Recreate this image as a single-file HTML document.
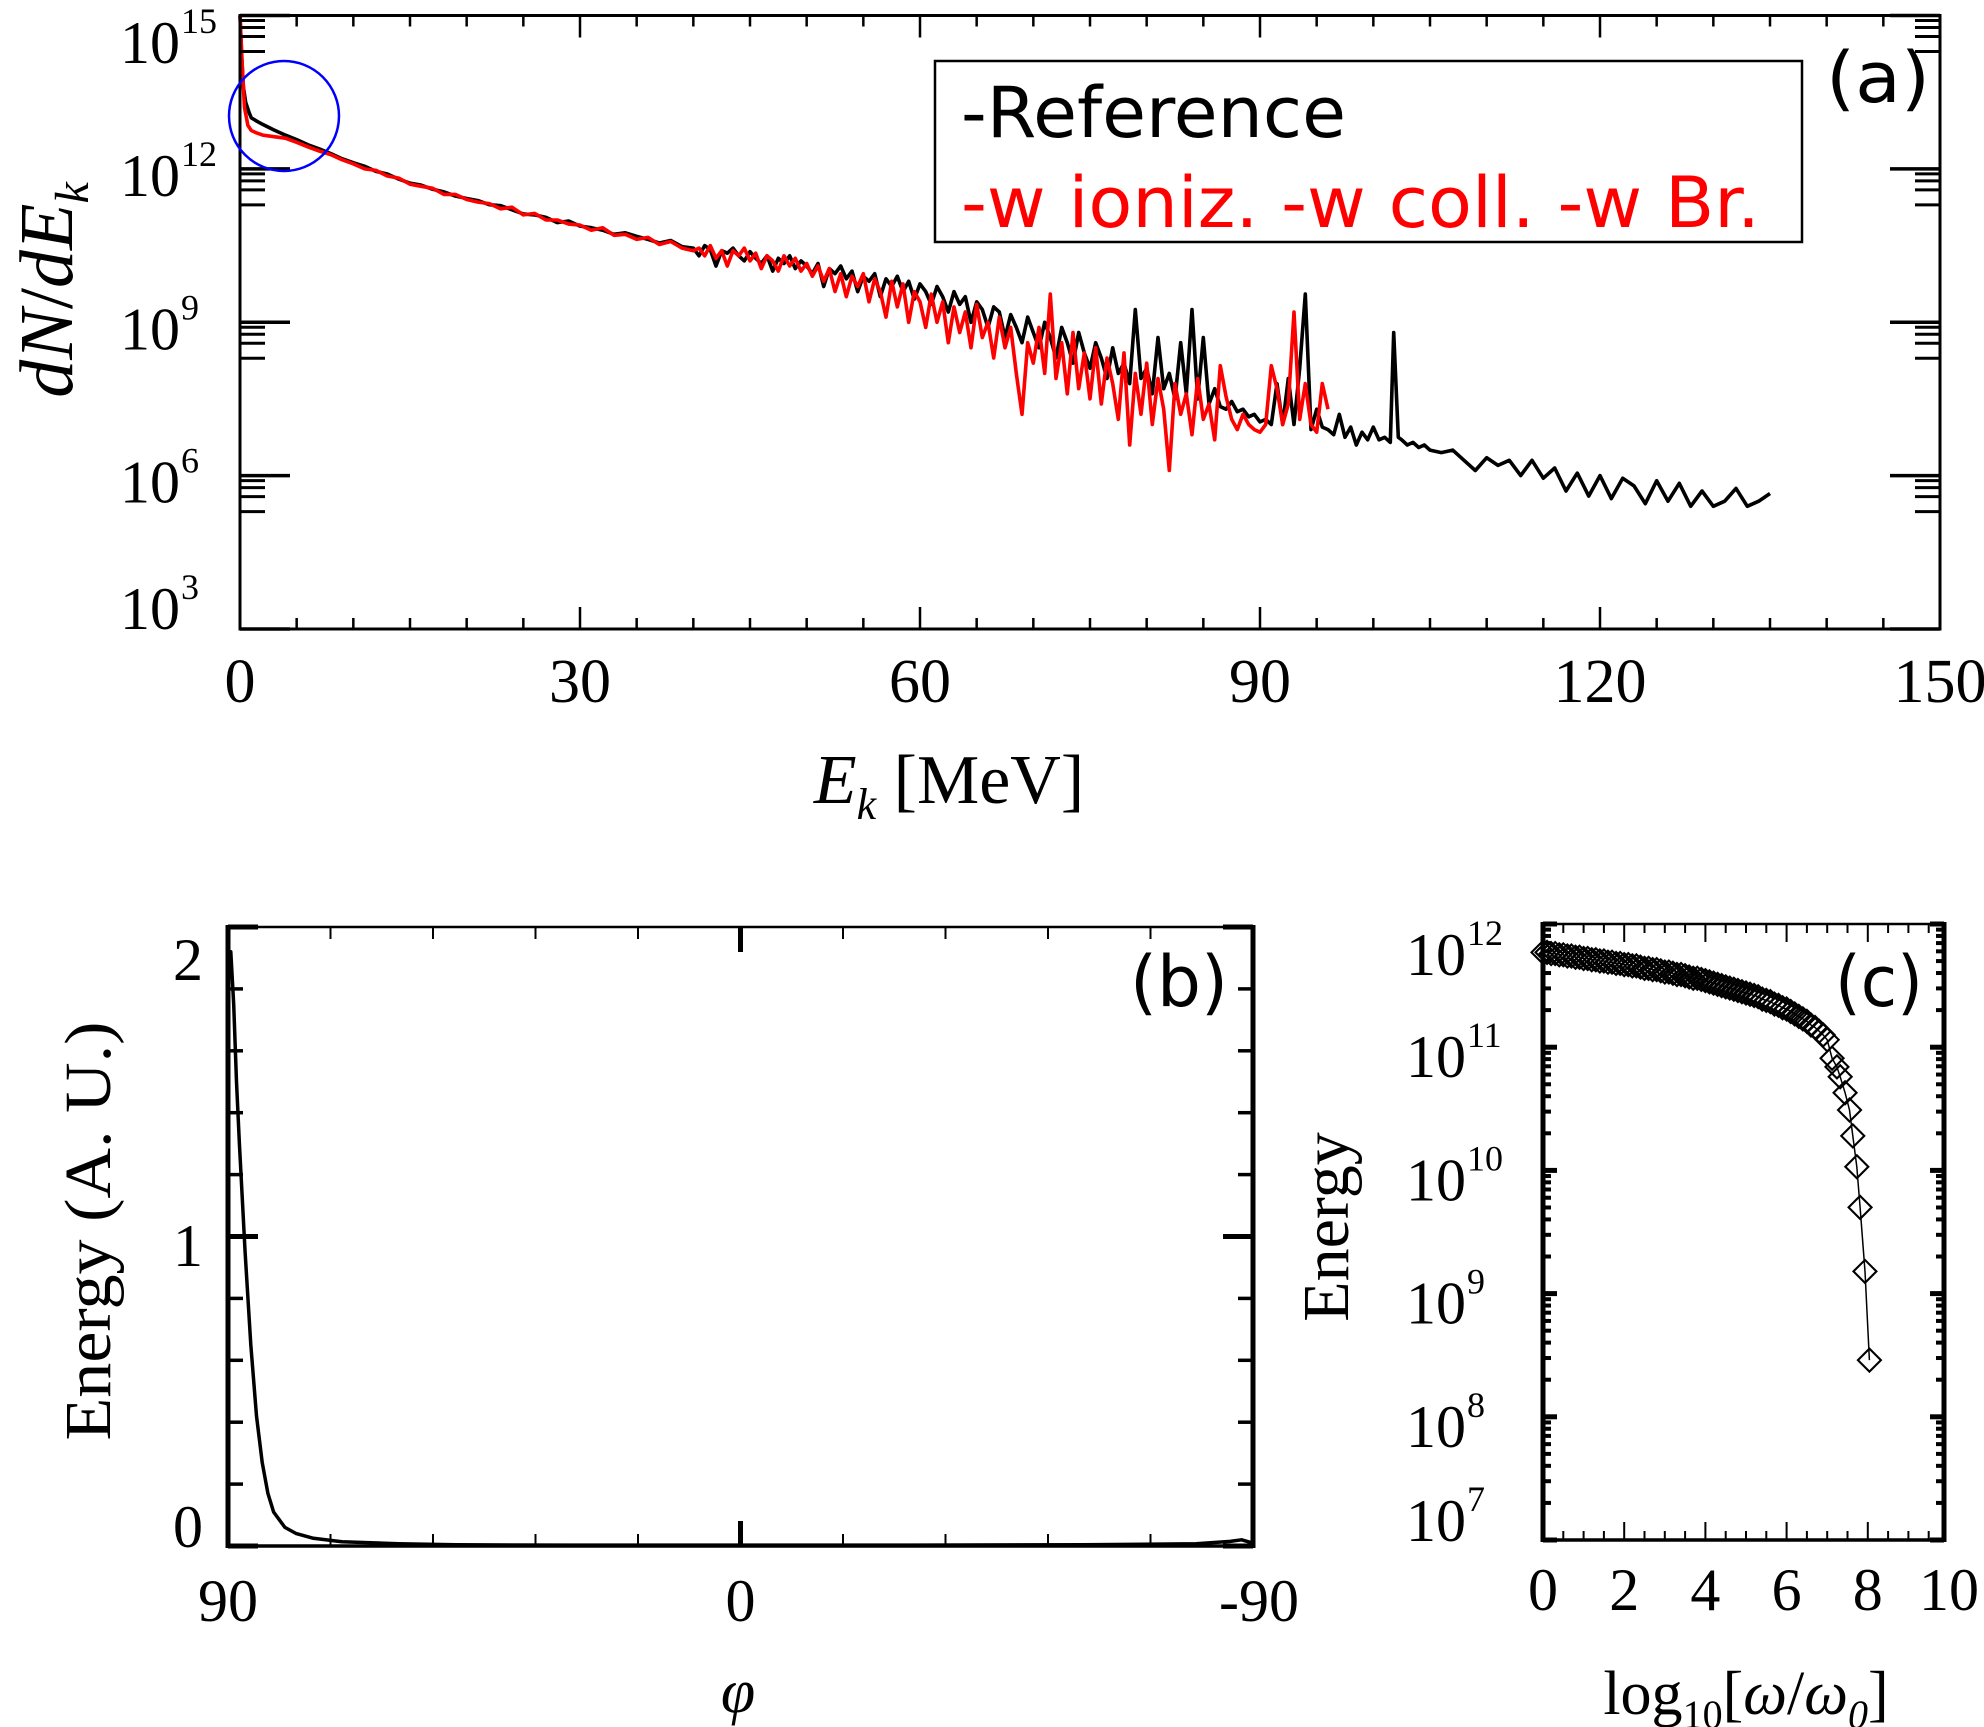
<!DOCTYPE html>
<html><head><meta charset="utf-8"><style>
html,body{margin:0;padding:0;background:#fff;}
svg{display:block;}
text{font-family:"Liberation Serif","DejaVu Serif",serif;fill:#000;}
.sans{font-family:"DejaVu Sans","Liberation Sans",sans-serif;}
</style></head><body>
<svg id="fig" width="1984" height="1727" viewBox="0 0 1984 1727" xmlns="http://www.w3.org/2000/svg">
<rect x="0" y="0" width="1984" height="1727" fill="#fff"/>
<g id="pa"></g>
<g id="pb"></g>
<g id="pc"></g>
</svg>
<script>
// ---------- Panel (a) data: energy [MeV] and log10(dN/dE) ----------
const refE = [0,0.15,0.3,0.5,0.8,1,1.5,2,3,4,5,6,7,8,9,
10,11,12,13,14,15,16,17,18,19,20,21,22,23,24,25,26,27,28,29,30,31,32,33,34,35,36,37,38,39,
40,40.5,41,41.5,42,42.5,43,43.5,44,44.5,45,45.5,46,46.5,47,47.5,48,48.5,49,49.5,50,50.5,51,51.5,52,52.5,53,53.5,54,54.5,55,55.5,56,56.5,57,57.5,58,58.5,59,59.5,60,60.5,61,61.5,62,62.5,63,63.5,64,64.5,65,65.5,66,66.5,67,67.5,68,68.5,69,69.5,70,70.5,71,71.5,72,72.5,73,73.5,74,74.5,75,75.5,76,76.5,77,77.5,78,78.5,79,79.5,80,80.5,81,81.5,82,82.5,83,83.5,84,84.5,85,85.5,86,86.5,87,87.5,88,88.5,89,89.5,90,90.5,91,91.5,92,92.5,93,93.5,94,94.5,95,95.5,96,96.5,97,97.5,98,98.5,99,99.5,100,100.5,101,101.5,101.8,102.2,102.5,103,103.5,104,104.5,105,
106,107,108,109,110,111,112,113,114,115,116,117,118,119,120,121,122,123,124,125,126,127,128,129,130,131,132,133,134,135];
const refLog = [15.0,14.2,13.6,13.3,13.1,13.0,12.93,12.87,12.76,12.66,12.57,12.47,12.39,12.3,12.2,
12.12,12.05,11.95,11.9,11.8,11.72,11.68,11.6,11.55,11.47,11.42,11.38,11.3,11.28,11.2,11.12,11.1,11.05,10.95,10.98,10.88,10.85,10.8,10.72,10.75,10.68,10.62,10.55,10.6,10.48,
10.45,10.3,10.5,10.42,10.1,10.4,10.35,10.45,10.3,10.2,10.38,10.25,10.15,10.3,10.0,10.25,10.15,10.3,10.05,10.2,10.1,9.95,10.15,9.7,10.05,9.95,10.1,9.85,10.0,9.6,9.9,9.8,9.95,9.5,9.85,9.7,9.9,9.6,9.8,9.45,9.75,9.6,9.35,9.7,9.5,9.2,9.6,9.35,9.5,9.0,9.4,9.25,8.9,9.3,9.2,8.7,9.15,8.9,8.6,9.1,8.8,8.5,9.0,8.7,8.3,8.9,8.6,8.2,8.8,8.4,8.1,8.6,8.3,7.9,8.5,8.0,8.2,7.8,9.25,7.9,8.1,7.6,8.7,7.7,8.0,7.5,8.6,7.6,9.25,7.5,8.7,7.4,7.7,7.35,7.3,7.45,7.25,7.3,7.15,7.2,7.05,7.1,7.0,7.8,7.0,7.9,7.0,8.1,9.55,6.9,7.3,6.95,6.9,6.8,7.2,6.75,6.95,6.6,6.85,6.7,6.95,6.7,6.75,6.65,8.8,6.75,6.7,6.6,6.65,6.55,6.6,6.5,
6.45,6.5,6.3,6.1,6.35,6.2,6.3,6.0,6.3,5.95,6.15,5.7,6.05,5.6,6.0,5.55,5.95,5.8,5.45,5.9,5.5,5.85,5.4,5.7,5.4,5.5,5.75,5.4,5.5,5.65];

const wE = [0,0.2,0.4,0.7,1,1.5,2,3,4,5,6,7,8,9,
10,11,12,13,14,15,16,17,18,19,20,21,22,23,24,25,26,27,28,29,30,31,32,33,34,35,36,37,38,39,
40,40.5,41,41.5,42,42.5,43,43.5,44,44.5,45,45.5,46,46.5,47,47.5,48,48.5,49,49.5,50,50.5,51,51.5,52,52.5,53,53.5,54,54.5,55,55.5,56,56.5,57,57.5,58,58.5,59,59.5,60,60.5,61,61.5,62,62.5,63,63.5,64,64.5,65,65.5,66,66.5,67,67.5,68,68.5,69,69.5,70,70.5,71,71.5,72,72.5,73,73.5,74,74.5,75,75.5,76,76.5,77,77.5,78,78.5,79,79.5,80,80.5,81,81.5,82,82.5,83,83.5,84,84.5,85,85.5,86,86.5,87,87.5,88,88.5,89,89.5,90,90.5,91,91.5,92,92.5,93,93.5,94,94.5,95,95.5,96];
const wLog = [15.0,14.0,13.2,12.85,12.75,12.7,12.66,12.63,12.6,12.52,12.43,12.35,12.28,12.18,
12.1,12.0,11.97,11.86,11.82,11.7,11.66,11.62,11.5,11.5,11.4,11.35,11.32,11.22,11.25,11.1,11.13,11.0,11.0,10.92,10.9,10.8,10.85,10.7,10.72,10.62,10.66,10.52,10.58,10.45,
10.4,10.45,10.3,10.5,10.25,10.4,10.1,10.4,10.3,10.45,10.2,10.35,10.05,10.3,10.2,10.0,10.3,10.1,10.25,10.0,10.15,9.9,10.1,9.8,10.05,9.6,9.95,9.5,9.9,9.7,9.95,9.4,9.85,9.6,9.1,9.8,9.3,9.75,9.0,9.6,9.4,8.9,9.55,9.0,9.4,8.6,9.3,8.8,9.2,8.5,9.35,8.7,9.0,8.3,9.1,8.5,8.9,8.0,7.2,8.6,8.2,8.9,8.0,9.55,7.9,8.6,7.6,8.8,7.7,8.4,7.5,8.5,7.4,8.3,7.8,7.1,8.4,6.6,8.0,7.2,8.2,7.0,7.9,7.3,6.1,7.8,7.2,7.6,6.8,7.9,7.1,7.4,6.7,8.15,7.55,7.1,6.9,7.2,7.0,6.9,6.85,7.0,8.15,7.7,7.0,7.4,9.2,7.1,7.8,7.0,6.85,7.8,7.3];

const aXTicks = [0,30,60,90,120,150];
const aYTicks = [15,12,9,6,3];

// ---------- Panel (b) data: phi [deg], energy [A.U.] ----------
const phiVals = [90,89.5,89,88.5,88,87,86,85,84,83,82,80,78,75,70,60,50,30,0,-30,-60,-80,-86,-88,-89.5,-90];
const phiEnergy = [1.8,1.92,1.75,1.5,1.3,0.95,0.65,0.42,0.27,0.17,0.11,0.06,0.04,0.025,0.014,0.007,0.004,0.003,0.003,0.003,0.004,0.007,0.015,0.02,0.012,0.01];
const bXTicks = [90,0,-90];
const bYTicks = [0,1,2];

// ---------- Panel (c) data: log10(w/w0), log10(Energy) ----------
const cX = [0,0.1,0.2,0.3,0.4,0.5,0.6,0.7,0.8,0.9,1.0,1.1,1.2,1.3,1.4,1.5,1.6,1.7,1.8,1.9,2.0,2.1,2.2,2.3,2.4,2.5,2.6,2.7,2.8,2.9,3.0,3.1,3.2,3.3,3.4,3.5,3.6,3.7,3.8,3.9,4.0,4.1,4.2,4.3,4.4,4.5,4.6,4.7,4.8,4.9,5.0,5.1,5.2,5.3,5.4,5.5,5.6,5.7,5.8,5.9,6.0,6.1,6.2,6.3,6.4,6.5,6.6,6.7,6.8,6.9,7.0,7.12,7.24,7.32,7.44,7.55,7.63,7.73,7.81,7.93,8.04];
const cLog = [11.77,11.77,11.76,11.76,11.75,11.75,11.74,11.74,11.73,11.73,11.72,11.72,11.71,11.71,11.70,11.70,11.69,11.69,11.68,11.68,11.67,11.67,11.66,11.66,11.65,11.64,11.64,11.63,11.63,11.62,11.61,11.61,11.60,11.59,11.59,11.58,11.57,11.56,11.56,11.55,11.54,11.53,11.52,11.51,11.50,11.49,11.48,11.47,11.46,11.45,11.44,11.43,11.42,11.41,11.39,11.38,11.37,11.35,11.34,11.32,11.31,11.29,11.27,11.25,11.23,11.21,11.18,11.16,11.13,11.10,11.06,10.91,10.84,10.76,10.63,10.49,10.28,10.03,9.70,9.18,8.46];
const cXTicks = [0,2,4,6,8,10];
const cYTicks = [12,11,10,9,8,7];

const NS = 'http://www.w3.org/2000/svg';
function mk(parent, tag, attrs, txt){
  const e = document.createElementNS(NS, tag);
  for (const k in attrs) e.setAttribute(k, attrs[k]);
  if (txt !== undefined) e.textContent = txt;
  parent.appendChild(e);
  return e;
}
function ln(g, x1,y1,x2,y2,w){ return mk(g,'line',{x1:x1,y1:y1,x2:x2,y2:y2,stroke:'#000','stroke-width':w}); }

// ================= Panel A =================
const A = {l:240, r:1940, t:15.5, b:629};
function xA(e){ return A.l + e*(A.r-A.l)/150; }
function yA(L){ return A.b - (L-3)*(A.b-A.t)/12; }
const ga = document.getElementById('pa');
function pathFrom(xs, ys, fx, fy){
  let d=''; for (let i=0;i<xs.length;i++){ d += (i?'L':'M') + fx(xs[i]).toFixed(1)+','+fy(ys[i]).toFixed(1); } return d;
}
const sRef = mk(ga,'path',{d:pathFrom(refE,refLog,xA,yA),fill:'none',stroke:'#000','stroke-width':3.6,'stroke-linejoin':'round'});


const sW = mk(ga,'path',{d:pathFrom(wE,wLog,xA,yA),fill:'none',stroke:'#ff0000','stroke-width':3.6,'stroke-linejoin':'round'});


const fa = mk(ga,'rect',{x:A.l,y:A.t,width:A.r-A.l,height:A.b-A.t,fill:'none',stroke:'#000','stroke-width':3});


for (let e=0;e<=150;e+=5){
  const major = e%30===0, len = major?22:11;
  ln(ga,xA(e),A.b,xA(e),A.b-len,2.5); ln(ga,xA(e),A.t,xA(e),A.t+len,2.5);
}
aXTicks.forEach(v=>{
  const t = mk(ga,'text',{x:xA(v),y:702,'font-size':62,'text-anchor':'middle'},String(v));
  
  
});
const minorOff=[5,12,21,36];
aYTicks.forEach(m=>{
  const y=yA(m);
  ln(ga,A.l,y,A.l+50,y,3.5); ln(ga,A.r,y,A.r-50,y,3.5);
  if (m>3) minorOff.forEach(o=>{ ln(ga,A.l,y+o,A.l+25,y+o,3); ln(ga,A.r,y+o,A.r-25,y+o,3); });
  let by = y+27; if (m===15) by=63; if (m===3) by=629;
  const t = mk(ga,'text',{x:180,y:by,'font-size':60,'text-anchor':'end'},'10');
  
  
  mk(ga,'text',{x:181,y:by-30,'font-size':36},String(m));
});
const xta = mk(ga,'text',{x:949,y:803,'font-size':70,'text-anchor':'middle'});


xta.innerHTML='<tspan font-style="italic">E</tspan><tspan font-style="italic" font-size="44" dy="16">k</tspan><tspan dy="-16"> [MeV]</tspan>';
const yta = mk(ga,'text',{x:0,y:0,'font-size':76,'text-anchor':'middle',transform:'translate(72,290) rotate(-90)'});


yta.innerHTML='<tspan font-style="italic">dN</tspan>/<tspan font-style="italic">dE</tspan><tspan font-style="italic" font-size="48" dy="16">k</tspan>';
const circ = mk(ga,'ellipse',{cx:284,cy:116,rx:55,ry:55,fill:'none',stroke:'#0000ff','stroke-width':2.5});


const lg = mk(ga,'g',{});


mk(lg,'rect',{x:935,y:61,width:867,height:181,fill:'#fff',stroke:'#000','stroke-width':2.5});
const le1 = mk(lg,'text',{x:961,y:137,'font-size':70,class:'sans',textLength:385,lengthAdjust:'spacingAndGlyphs'},'-Reference');


const le2 = mk(lg,'text',{x:961,y:227,'font-size':70,class:'sans',fill:'#ff0000',style:'fill:#ff0000',textLength:799,lengthAdjust:'spacingAndGlyphs'},'-w ioniz. -w coll. -w Br.');


const pla = mk(ga,'text',{x:1826,y:102,'font-size':70,class:'sans',textLength:104,lengthAdjust:'spacingAndGlyphs'},'(a)');



// ================= Panel B =================
const B = {l:228, r:1253, t:927, b:1546};
function xB(p){ return B.l + (90-p)*(B.r-B.l)/180; }
function yB(v){ return B.b - v*309.5; }
const gb = document.getElementById('pb');
const sB = mk(gb,'path',{d:pathFrom(phiVals,phiEnergy,xB,yB),fill:'none',stroke:'#000','stroke-width':3.5,'stroke-linejoin':'round'});


ln(gb,B.l,B.t,B.r,B.t,2.5); ln(gb,B.l,B.b,B.r,B.b,3.5);
ln(gb,B.l,B.t-2,B.l,B.b+2,5); ln(gb,B.r,B.t-2,B.r,B.b+2,5);
for (let p=90;p>=-90;p-=18){
  const major = (p===90||p===0||p===-90);
  ln(gb,xB(p),B.b,xB(p),B.b-(major?25:12),major?5:2); ln(gb,xB(p),B.t,xB(p),B.t+(major?25:12),major?5:2);
}
for (let i=0;i<=10;i++){
  const v=i*0.2, major=(i%5===0);
  ln(gb,B.l,yB(v),B.l+(major?30:15),yB(v),major?5:3.5); ln(gb,B.r,yB(v),B.r-(major?30:15),yB(v),major?5:3.5);
}
const bLabY={0:1547,1:1266,2:980};
bYTicks.forEach(v=>{
  const t = mk(gb,'text',{x:188,y:bLabY[v],'font-size':60,'text-anchor':'middle'},String(v));
  
  
});
bXTicks.forEach(v=>{
  const t = mk(gb,'text',{x:xB(v)-(v===-90?-6:0),y:1621,'font-size':60,'text-anchor':'middle'},String(v));
  
  
});
const xtb = mk(gb,'text',{x:738,y:1712,'font-size':62,'font-style':'italic','text-anchor':'middle'},'φ');


const ytb = mk(gb,'text',{x:0,y:0,'font-size':66,'text-anchor':'middle',transform:'translate(110,1231) rotate(-90)',textLength:419,lengthAdjust:'spacingAndGlyphs'},'Energy (A. U.)');


const plb = mk(gb,'text',{x:1130,y:1006,'font-size':70,class:'sans',textLength:98,lengthAdjust:'spacingAndGlyphs'},'(b)');



// ================= Panel C =================
const C = {l:1543, r:1944, t:924, b:1540};
function xC(x){ return C.l + x*40.6; }
function yC(L){ return C.b - (L-7)*(C.b-C.t)/5; }
const gc = document.getElementById('pc');
const sC = mk(gc,'path',{d:pathFrom(cX,cLog,xC,yC),fill:'none',stroke:'#000','stroke-width':1.5});


for (let i=0;i<cX.length;i++){
  const cx=xC(cX[i]), cy=yC(cLog[i]), s=11.5;
  const m = mk(gc,'path',{d:`M${cx-s},${cy}L${cx},${cy-s}L${cx+s},${cy}L${cx},${cy+s}Z`,fill:'none',stroke:'#000','stroke-width':2.1});
  
  
}
ln(gc,C.l,C.t,C.r,C.t,2.5); ln(gc,C.l,C.b,C.r,C.b,3.5);
ln(gc,C.l,C.t-2,C.l,C.b+2,5); ln(gc,C.r,C.t-2,C.r,C.b+2,5);
for (let k=0;k<=19;k++){
  const x=k*0.5, major=(k%4===0), X=xC(x); if (X>C.r) break;
  ln(gc,X,C.b,X,C.b-(major?18:9),2); ln(gc,X,C.t,X,C.t+(major?18:9),2);
}
for (let d=7; d<=12; d++){
  ln(gc,C.l,yC(d),C.l+14,yC(d),5); ln(gc,C.r,yC(d),C.r-14,yC(d),5);
  if (d<12) for (let k=2;k<=9;k++){ const y=yC(d+Math.log10(k)); ln(gc,C.l,y,C.l+8,y,4); ln(gc,C.r,y,C.r-8,y,4); }
}
cYTicks.forEach(m=>{
  let by = yC(m)+30; if (m===12) by=975; if (m===7) by=1541;
  const t = mk(gc,'text',{x:1466,y:by,'font-size':60,'text-anchor':'end'},'10');
  
  
  mk(gc,'text',{x:1467,y:by-30,'font-size':36},String(m));
});
cXTicks.forEach(v=>{
  const t = mk(gc,'text',{x:xC(v),y:1610,'font-size':60,'text-anchor':'middle'},String(v));
  
  
});
const xtc = mk(gc,'text',{x:1746,y:1714,'font-size':62,'text-anchor':'middle'});


xtc.innerHTML='log<tspan font-size="40" dy="14">10</tspan><tspan dy="-14">[</tspan><tspan font-style="italic">ω</tspan>/<tspan font-style="italic">ω</tspan><tspan font-style="italic" font-size="40" dy="14">0</tspan><tspan dy="-14">]</tspan>';
const ytc = mk(gc,'text',{x:0,y:0,'font-size':66,'text-anchor':'middle',transform:'translate(1348,1227) rotate(-90)'},'Energy');


const plc = mk(gc,'text',{x:1835,y:1006,'font-size':70,class:'sans',textLength:88,lengthAdjust:'spacingAndGlyphs'},'(c)');


</script>
</body></html>
